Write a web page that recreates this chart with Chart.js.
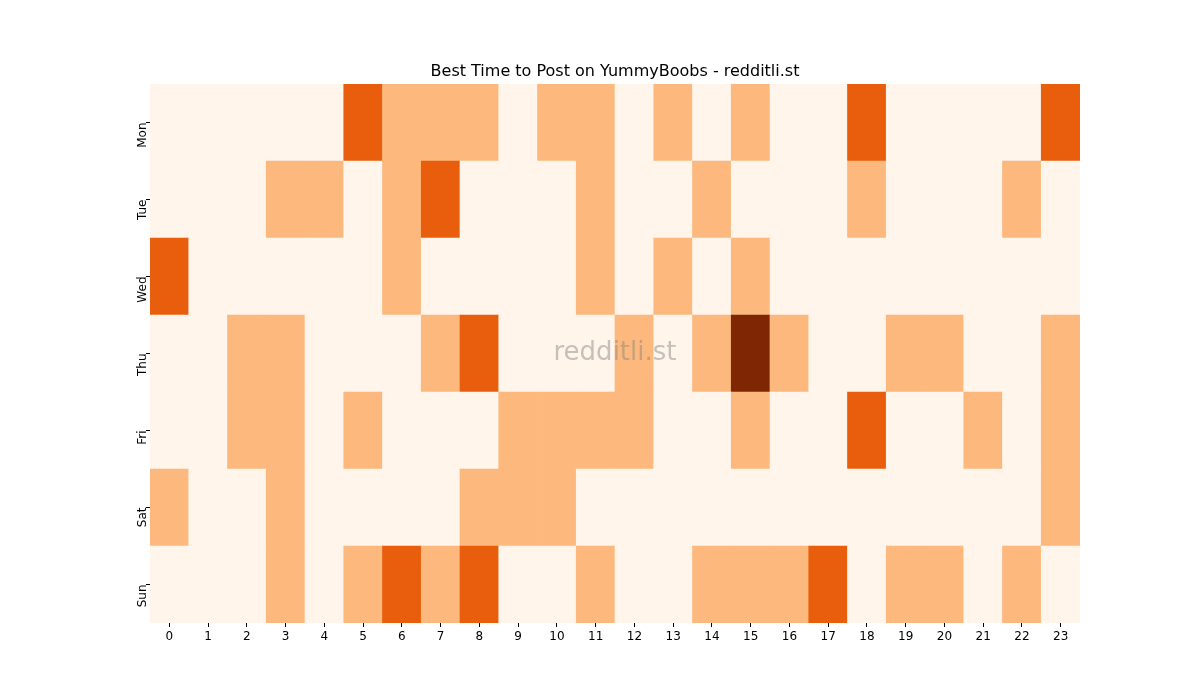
<!DOCTYPE html>
<html><head><meta charset="utf-8">
<script src="https://cdn.jsdelivr.net/npm/chart.js@4"></script>
<style>html,body{margin:0;padding:0;background:#fff}#w{width:1200px;height:700px}</style>
</head><body><div id="w"><canvas id="c"></canvas></div>
<script>
const hours = ['0','1','2','3','4','5','6','7','8','9','10','11','12','13','14','15','16','17','18','19','20','21','22','23'];
const days = ['Mon','Tue','Wed','Thu','Fri','Sat','Sun'];
const mon = [0,0,0,0,0,2,1,1,1,0,1,1,0,1,0,1,0,0,2,0,0,0,0,2];
const tue = [0,0,0,1,1,0,1,2,0,0,0,1,0,0,1,0,0,0,1,0,0,0,1,0];
const wed = [2,0,0,0,0,0,1,0,0,0,0,1,0,1,0,1,0,0,0,0,0,0,0,0];
const thu = [0,0,1,1,0,0,0,1,2,0,0,0,1,0,1,3,1,0,0,1,1,0,0,1];
const fri = [0,0,1,1,0,1,0,0,0,1,1,1,1,0,0,1,0,0,2,0,0,1,0,1];
const sat = [1,0,0,1,0,0,0,0,1,1,1,0,0,0,0,0,0,0,0,0,0,0,0,1];
const sun = [0,0,0,1,0,1,2,1,2,0,0,1,0,0,1,1,1,2,0,1,1,0,1,0];
const levels = [mon,tue,wed,thu,fri,sat,sun];
const palette = ['#fff5eb','#fdb97d','#e95e0d','#7f2704'];

const datasets = levels.slice().reverse().map((row,i)=>({
  label: days[6-i],
  data: row.map(()=>1),
  backgroundColor: row.map(v=>palette[v]),
  borderWidth: 0,
  barPercentage: 1, categoryPercentage: 1
}));

const extra = {
  id:'extra',
  afterDraw(ch){
    const c=ch.ctx, a=ch.chartArea;
    c.save();
    c.font='16px "DejaVu Sans"'; c.fillStyle='#000'; c.textAlign='center'; c.textBaseline='alphabetic';
    c.fillText('Best Time to Post on YummyBoobs - redditli.st',(a.left+a.right)/2,76);
    c.font='26px "DejaVu Sans"'; c.fillStyle='rgba(128,128,128,0.45)'; c.textBaseline='middle';
    c.fillText('redditli.st',(a.left+a.right)/2,(a.top+a.bottom)/2);
    c.restore();
  }
};

new Chart(document.getElementById('c'),{
  type:'bar',
  data:{labels:hours,datasets},
  options:{
    responsive:true,maintainAspectRatio:false,animation:false,
    layout:{padding:{top:84,right:120,left:0,bottom:0}},
    plugins:{legend:{display:false},tooltip:{enabled:false}},
    scales:{
      x:{stacked:true,
        grid:{display:true,drawOnChartArea:false,offset:false,tickLength:4,color:'#000'},
        border:{display:false},
        ticks:{color:'#000',font:{family:'DejaVu Sans',size:12},maxRotation:0,autoSkip:false},
        afterFit(s){s.height=77;}},
      y:{stacked:true,min:0,max:7,
        afterBuildTicks(s){s.ticks=[0.5,1.5,2.5,3.5,4.5,5.5,6.5].map(v=>({value:v}));},
        grid:{display:true,drawOnChartArea:false,tickLength:4,color:'#000'},
        border:{display:false},
        ticks:{color:'#000',font:{family:'DejaVu Sans',size:12},minRotation:90,maxRotation:90,
          callback:(v)=>days[6-Math.floor(v)]},
        afterFit(s){s.width=150;}}
    }
  },
  plugins:[extra]
});
</script></body></html>
